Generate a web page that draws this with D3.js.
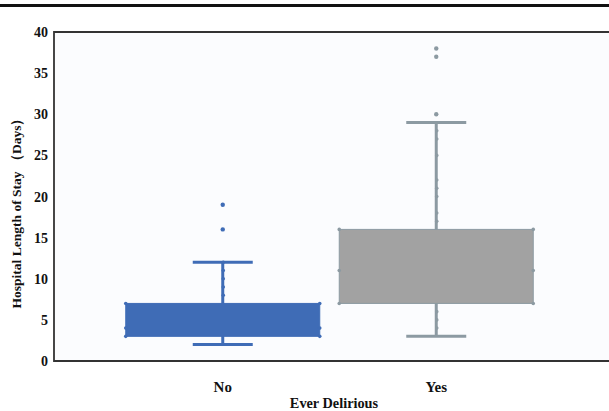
<!DOCTYPE html>
<html>
<head>
<meta charset="utf-8">
<script src="https://cdn.jsdelivr.net/npm/d3@7"></script>
<style>
  body { margin: 0; background: #fff; }
  text { font-family: "Liberation Serif", "Times New Roman", serif; font-weight: bold; fill: #111; }
</style>
</head>
<body>
<script>
// data
let categories = ["No", "Yes"];
let whiskerLow = [2, 3];
let q1 = [3, 7];
let median = [4, 11];
let q3 = [7, 16];
let whiskerHigh = [12, 29];
let outliersNo = [16, 19];
let outliersYes = [30, 37, 38];
let whiskerPointsNo = [8, 9, 10, 11, 12];
let whiskerPointsYes = [4, 5, 6, 17, 18, 20, 21, 22, 25, 27, 28];
let yTicks = [0, 5, 10, 15, 20, 25, 30, 35, 40];

let colors = ["#3f6cb6", "#a2a2a2"];
let lineColors = ["#3f6cb6", "#8c9aa2"];

let margin = { top: 32, left: 54, bottom: 50, right: -10 };
let W = 609, H = 411;

let svg = d3.select("body").append("svg").attr("width", W).attr("height", H);

// top page rule
svg.append("rect").attr("x", 0).attr("y", 4).attr("width", W).attr("height", 3).attr("fill", "#111");

let y = d3.scaleLinear().domain([0, 40]).range([H - margin.bottom, margin.top]);
let x = d3.scalePoint().domain(categories).range([116, 543]).padding(0.5);
let boxW = 194, capW = 60;

// plot background
svg.append("rect").attr("x", margin.left).attr("y", margin.top)
  .attr("width", W - margin.left - margin.right).attr("height", y(0) - margin.top)
  .attr("fill", "#fbfcfe");

// frame: left, top, bottom (right is off the page)
let frame = svg.append("g").attr("stroke", "#333").attr("stroke-width", 1.8).attr("fill", "none");
frame.append("path").attr("d", "M" + (W + 5) + "," + y(40) + "H" + margin.left + "V" + y(0) + "H" + (W + 5));

// y tick labels
svg.selectAll(".ytick").data(yTicks).enter().append("text")
  .attr("class", "ytick")
  .attr("x", 48).attr("y", function(d) { return y(d) + 5; })
  .attr("text-anchor", "end").attr("font-size", 14)
  .text(function(d) { return d; });

// y label
svg.append("text")
  .attr("transform", "translate(21," + 210 + ") rotate(-90)")
  .attr("text-anchor", "middle").attr("font-size", 13.5)
  .text("Hospital Length of Stay （Days）");

// x labels
svg.selectAll(".xtick").data(categories).enter().append("text")
  .attr("class", "xtick")
  .attr("x", function(d) { return x(d); }).attr("y", 392)
  .attr("text-anchor", "middle").attr("font-size", 15)
  .text(function(d) { return d; });

svg.append("text").attr("x", 334).attr("y", 408)
  .attr("text-anchor", "middle").attr("font-size", 14.3)
  .text("Ever Delirious");

let outliers = [outliersNo, outliersYes];
let whiskerPoints = [whiskerPointsNo, whiskerPointsYes];

categories.forEach(function(c, i) {
  let cx = x(c);
  let g = svg.append("g");
  // whisker stem
  g.append("line").attr("x1", cx).attr("x2", cx)
    .attr("y1", y(whiskerLow[i])).attr("y2", y(whiskerHigh[i]))
    .attr("stroke", lineColors[i]).attr("stroke-width", 3);
  // caps
  [whiskerLow[i], whiskerHigh[i]].forEach(function(v) {
    g.append("line").attr("x1", cx - capW / 2).attr("x2", cx + capW / 2)
      .attr("y1", y(v)).attr("y2", y(v))
      .attr("stroke", lineColors[i]).attr("stroke-width", 3);
  });
  // box
  g.append("rect").attr("x", cx - boxW / 2).attr("width", boxW)
    .attr("y", y(q3[i])).attr("height", y(q1[i]) - y(q3[i]))
    .attr("fill", colors[i]).attr("stroke", lineColors[i]).attr("stroke-width", 1);
  // small marks on box edges
  [q1[i], median[i], q3[i]].forEach(function(v) {
    [cx - boxW / 2, cx + boxW / 2].forEach(function(px) {
      g.append("circle").attr("cx", px).attr("cy", y(v)).attr("r", 1.8).attr("fill", lineColors[i]);
    });
  });
  // points along whisker
  g.selectAll(".wp").data(whiskerPoints[i]).enter().append("circle")
    .attr("cx", cx + 0.5).attr("cy", function(d) { return y(d); })
    .attr("r", 1.8).attr("fill", lineColors[i]);
  // outliers
  g.selectAll(".op").data(outliers[i]).enter().append("circle")
    .attr("cx", cx).attr("cy", function(d) { return y(d); })
    .attr("r", 2.2).attr("fill", lineColors[i]);
});
</script>
</body>
</html>
